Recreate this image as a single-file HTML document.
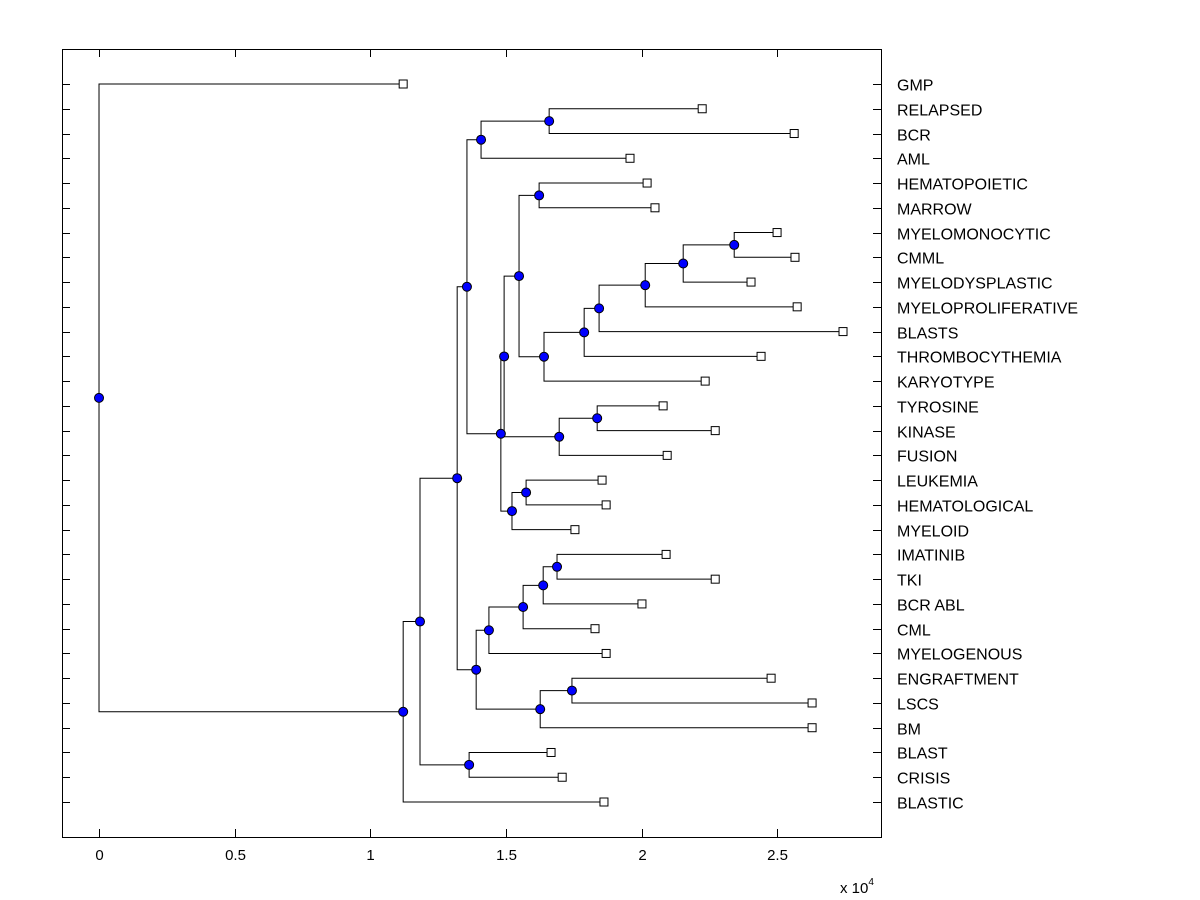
<!DOCTYPE html>
<html><head><meta charset="utf-8"><style>
html,body{margin:0;padding:0;background:#fff;}
svg{display:block;font-family:"Liberation Sans",Arial,sans-serif;}
</style></head><body>
<svg id="chart" width="1200" height="900" viewBox="0 0 1200 900"></svg>
<script>
const leafLabels = ["GMP","RELAPSED","BCR","AML","HEMATOPOIETIC","MARROW","MYELOMONOCYTIC","CMML","MYELODYSPLASTIC","MYELOPROLIFERATIVE","BLASTS","THROMBOCYTHEMIA","KARYOTYPE","TYROSINE","KINASE","FUSION","LEUKEMIA","HEMATOLOGICAL","MYELOID","IMATINIB","TKI","BCR ABL","CML","MYELOGENOUS","ENGRAFTMENT","LSCS","BM","BLAST","CRISIS","BLASTIC"];
const leafValues = [1.121,2.223,2.562,1.957,2.020,2.049,2.499,2.565,2.403,2.573,2.742,2.440,2.234,2.079,2.271,2.094,1.854,1.869,1.754,2.090,2.271,2.001,1.828,1.869,2.477,2.628,2.628,1.666,1.707,1.861];
const mergeLeft  = [1,30,4,6,33,34,35,36,37,32,13,40,39,16,43,42,31,19,47,48,49,24,51,50,46,27,54,56,0];
const mergeRight = [2,3,5,7,8,9,10,11,12,38,14,15,41,17,18,44,45,20,21,22,23,25,26,52,53,28,55,29,57];
const mergeHeights = [1.659,1.408,1.622,2.341,2.153,2.013,1.843,1.788,1.640,1.548,1.836,1.696,1.493,1.574,1.522,1.481,1.356,1.688,1.637,1.563,1.437,1.743,1.626,1.390,1.320,1.364,1.183,1.121,0];
const xTicks = [0,0.5,1,1.5,2,2.5];
const xTickLabels = ["0","0.5","1","1.5","2","2.5"];

const NS="http://www.w3.org/2000/svg";
const svg=document.getElementById('chart');
const L=62,R=881,T=49,B=837;
const xMin=-0.1364,xMax=2.882;
const xs=v=>L+(v-xMin)/(xMax-xMin)*(R-L);
const yTop=84,yBot=802;
const ys=i=>yTop+i*(yBot-yTop)/(leafLabels.length-1);
function el(tag,attrs,parent){const e=document.createElementNS(NS,tag);for(const k in attrs)e.setAttribute(k,attrs[k]);(parent||svg).appendChild(e);return e;}

const frame=el('rect',{x:L+0.5,y:T+0.5,width:R-L,height:B-T,fill:'#fff',stroke:'#000','stroke-width':1});



xTicks.forEach((t,i)=>{
  const x=Math.round(xs(t))+0.5;
  const tk=el('path',{d:`M${x} ${B}V${B-8}M${x} ${T}V${T+8}`,stroke:'#000','stroke-width':1});
  
  
  const lb=el('text',{x:x,y:B+23,'font-size':15,'text-anchor':'middle'});
  lb.textContent=xTickLabels[i];
  
  
});
leafLabels.forEach((n,i)=>{
  const y=Math.round(ys(i))+0.5;
  const tk=el('path',{d:`M${L} ${y}H${L+8}M${R} ${y}H${R-8}`,stroke:'#000','stroke-width':1});
  
  
  const lb=el('text',{x:897,y:y+6,'font-size':16});
  lb.textContent=n;
  
  
});
const ex=el('text',{x:840,y:893,'font-size':15});
ex.innerHTML='x 10<tspan dy="-8" font-size="10">4</tspan>';



const nx=[],ny=[];
leafValues.forEach((v,i)=>{nx[i]=v;ny[i]=ys(i);});
const N=leafLabels.length;
const linkG=el('g',{});


mergeHeights.forEach((h,k)=>{
  const id=N+k,a=mergeLeft[k],b=mergeRight[k];
  nx[id]=h;ny[id]=(ny[a]+ny[b])/2;
  const px=xs(h);
  const p=el('path',{d:`M${xs(nx[a])} ${ny[a]}H${px}V${ny[b]}H${xs(nx[b])}`,fill:'none',stroke:'#000','stroke-width':1},linkG);
  
  
});
leafValues.forEach((v,i)=>{
  const r=el('rect',{x:xs(v)-4,y:ys(i)-4,width:8,height:8,fill:'#fff',stroke:'#000','stroke-width':1});
  
  
});
mergeHeights.forEach((h,k)=>{
  const c=el('circle',{cx:xs(h),cy:ny[N+k],r:4.5,fill:'#0000ff',stroke:'#000','stroke-width':1});
  
  
});
</script>
</body></html>
